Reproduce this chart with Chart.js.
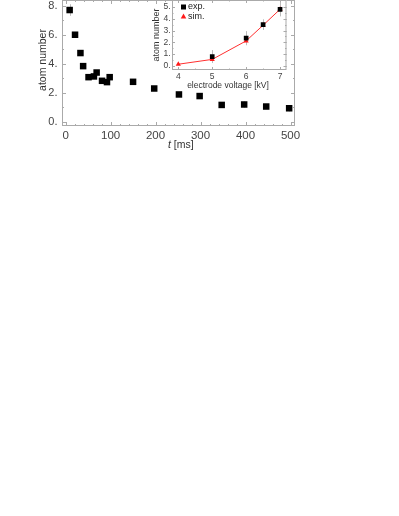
<!DOCTYPE html>
<html>
<head>
<meta charset="utf-8">
<script src="https://cdn.jsdelivr.net/npm/chart.js@4.4.1/dist/chart.umd.min.js"></script>
<style>
  body { margin: 0; background: #fff; width: 399px; height: 516px; overflow: hidden; position: relative; }
  canvas { position: absolute; top: 0; }
  #main { left: 0; }
  #inset { left: 150px; }
</style>
</head>
<body>
<canvas id="main" width="399" height="160"></canvas>
<canvas id="inset" width="142" height="95"></canvas>
<script>
// main panel: atom number vs. time
const tMs = [9, 21, 33, 39, 51, 63, 69, 81, 92, 98, 150, 197, 252, 298, 347, 397, 446, 497];
const atoms = [7.7, 6.0, 4.74, 3.84, 3.08, 3.13, 3.4, 2.83, 2.74, 3.08, 2.76, 2.3, 1.89, 1.78, 1.17, 1.2, 1.06, 0.94];
const atomsErr = [0.4, 0.12, 0.12, 0.12, 0.1, 0.1, 0.15, 0.1, 0.1, 0.12, 0.1, 0.12, 0.15, 0.12, 0.2, 0.22, 0.12, 0.22];
const mainXTicks = [0, 100, 200, 300, 400, 500];
const mainYTicks = [0, 2, 4, 6, 8];

// inset: atom number vs. electrode voltage
const voltExp = [5, 6, 6.5, 7];
const atomsExp = [0.79, 2.35, 3.5, 4.8];
const atomsExpErr = [0.55, 0.6, 0.45, 0.6];
const voltSim = [4, 5, 6, 6.5, 7];
const atomsSim = [0.14, 0.55, 2.12, 3.45, 4.8];
const insetXTicks = [4, 5, 6, 7];
const insetYTicks = [0, 1, 2, 3, 4, 5];

const FONT = "'Liberation Sans', Arial, sans-serif";
const toXY = (xs, ys) => xs.map((x, i) => ({ x: x, y: ys[i] }));

function range(a, b, step) {
    let out = [];
    for (let v = a; v <= b + 1e-9; v += step) out.push(Math.round(v * 1000) / 1000);
    return out;
}

// frame with inward ticks on all four sides, error bars, titles
const framePlugin = {
    id: 'frame',
    beforeDraw(chart, args, opts) {
        if (!opts.fill) return;
        const a = chart.chartArea, ctx = chart.ctx;
        ctx.save();
        ctx.fillStyle = opts.fill;
        ctx.fillRect(a.left, a.top, a.right - a.left, a.bottom - a.top);
        ctx.restore();
    },
    beforeDatasetsDraw(chart, args, opts) {
        const { ctx, chartArea: a, scales: { x, y } } = chart;
        ctx.save();
        ctx.strokeStyle = '#aaa';
        ctx.lineWidth = 1;
        ctx.strokeRect(a.left + 0.5, a.top + 0.5, a.right - a.left - 1, a.bottom - a.top - 1);
        ctx.beginPath();
        const tick = (vals, len, horiz) => {
            vals.forEach(v => {
                if (horiz) {
                    const px = Math.round(x.getPixelForValue(v)) + 0.5;
                    if (px < a.left || px > a.right) return;
                    ctx.moveTo(px, a.bottom); ctx.lineTo(px, a.bottom - len);
                    ctx.moveTo(px, a.top); ctx.lineTo(px, a.top + len);
                } else {
                    const py = Math.round(y.getPixelForValue(v)) + 0.5;
                    if (py < a.top || py > a.bottom) return;
                    ctx.moveTo(a.left, py); ctx.lineTo(a.left + len, py);
                    ctx.moveTo(a.right, py); ctx.lineTo(a.right - len, py);
                }
            });
        };
        tick(opts.majorX, opts.major, true);
        tick(opts.minorX, opts.minor, true);
        tick(opts.majorY, opts.major, false);
        tick(opts.minorY, opts.minor, false);
        ctx.stroke();

        // error bars
        ctx.strokeStyle = '#bbb';
        chart.data.datasets.forEach((ds, i) => {
            if (!ds.errors) return;
            const meta = chart.getDatasetMeta(i);
            ctx.beginPath();
            meta.data.forEach((pt, j) => {
                const px = Math.round(pt.x) + 0.5;
                const v = ds.data[j].y;
                ctx.moveTo(px, y.getPixelForValue(v + ds.errors[j]));
                ctx.lineTo(px, y.getPixelForValue(v - ds.errors[j]));
            });
            ctx.stroke();
        });
        ctx.restore();
    },
    afterDraw(chart, args, opts) {
        const ctx = chart.ctx;
        ctx.save();
        ctx.fillStyle = '#333';
        (opts.texts || []).forEach(t => {
            ctx.save();
            ctx.translate(t.x, t.y);
            if (t.rot) ctx.rotate(t.rot);
            ctx.textBaseline = 'middle';
            ctx.textAlign = t.align || 'center';
            let cx = 0;
            t.parts.forEach(p => {
                ctx.font = (p.italic ? 'italic ' : '') + t.size + 'px ' + FONT;
                ctx.fillText(p.s, cx, 0);
                cx += ctx.measureText(p.s).width;
            });
            ctx.restore();
        });
        (opts.legend || []).forEach(l => {
            ctx.fillStyle = l.color;
            ctx.beginPath();
            if (l.shape == 'rect') {
                ctx.rect(l.x - 2.5, l.y - 2.5, 5, 5);
            } else {
                ctx.moveTo(l.x, l.y - 3);
                ctx.lineTo(l.x + 2.8, l.y + 2);
                ctx.lineTo(l.x - 2.8, l.y + 2);
                ctx.closePath();
            }
            ctx.fill();
            ctx.fillStyle = '#222';
            ctx.font = '9px ' + FONT;
            ctx.textBaseline = 'middle';
            ctx.textAlign = 'left';
            ctx.fillText(l.label, l.x + 4.5, l.y);
        });
        ctx.restore();
    }
};

function axis(min, max, ticks, size, pad, fmt, fit) {
    return {
        type: 'linear', min: min, max: max,
        grid: { display: false, drawTicks: false },
        border: { display: false },
        afterBuildTicks: s => { s.ticks = ticks.map(v => ({ value: v })); },
        afterFit: fit,
        ticks: {
            padding: pad, color: '#444', font: { family: FONT, size: size },
            callback: fmt, maxRotation: 0, autoSkip: false
        }
    };
}

new Chart(document.getElementById('main'), {
    type: 'scatter',
    data: {
        datasets: [{
            data: toXY(tMs, atoms),
            errors: atomsErr,
            pointStyle: 'rect', pointRadius: 4.6, pointHoverRadius: 4.6,
            backgroundColor: '#000', borderColor: '#000', borderWidth: 0
        }]
    },
    options: {
        responsive: false, animation: false,
        layout: { autoPadding: false, padding: { left: 0, right: 104, top: 0, bottom: 0 } },
        plugins: {
            legend: { display: false }, tooltip: { enabled: false },
            frame: {
                majorX: mainXTicks, minorX: range(0, 500, 20),
                majorY: mainYTicks, minorY: range(0, 8, 1),
                major: 4, minor: 2,
                texts: [
                    { x: 43.5, y: 60, rot: -Math.PI / 2, size: 10.5, parts: [{ s: 'atom number' }] },
                    { x: 168, y: 145, align: 'left', size: 10.5, parts: [{ s: 't', italic: true }, { s: ' [ms]' }] }
                ]
            }
        },
        scales: {
            x: axis(-8, 510, mainXTicks, 11.5, 3, v => String(v),
                s => { s.height = 34; s.paddingLeft = 0; s.paddingRight = 0; }),
            y: axis(-0.28, 8.39, mainYTicks, 11, 4.5, v => v + '.',
                s => { s.width = 62; s.paddingTop = 0; s.paddingBottom = 0; })
        }
    },
    plugins: [framePlugin]
});

new Chart(document.getElementById('inset'), {
    type: 'scatter',
    data: {
        datasets: [{
            label: 'sim.',
            data: toXY(voltSim, atomsSim),
            showLine: true, borderColor: '#ff3030', borderWidth: 1,
            pointStyle: 'triangle', pointRadius: 3, pointHoverRadius: 3,
            backgroundColor: '#ff1a1a', pointBorderWidth: 0, order: 2
        }, {
            label: 'exp.',
            data: toXY(voltExp, atomsExp),
            errors: atomsExpErr,
            pointStyle: 'rect', pointRadius: 3.3, pointHoverRadius: 3.3,
            backgroundColor: '#000', borderColor: '#000', borderWidth: 0, order: 1
        }]
    },
    options: {
        responsive: false, animation: false,
        layout: { autoPadding: false, padding: { left: 0, right: 5.5, top: 0, bottom: 0 } },
        plugins: {
            legend: { display: false }, tooltip: { enabled: false },
            frame: {
                fill: '#fff',
                majorX: insetXTicks, minorX: range(4, 7, 0.5),
                majorY: insetYTicks, minorY: range(0, 5, 0.5),
                major: 3, minor: 1.5,
                texts: [
                    { x: 6.5, y: 35, rot: -Math.PI / 2, size: 9, parts: [{ s: 'atom number' }] },
                    { x: 78, y: 86, size: 8.5, parts: [{ s: 'electrode voltage [kV]' }] }
                ],
                legend: [
                    { x: 33.5, y: 7, shape: 'rect', color: '#000', label: 'exp.' },
                    { x: 33.5, y: 16.5, shape: 'tri', color: '#ff1a1a', label: 'sim.' }
                ]
            }
        },
        scales: {
            x: axis(3.814, 7.19, insetXTicks, 8.5, 2, v => String(v),
                s => { s.height = 25; s.paddingLeft = 0; s.paddingRight = 0; }),
            y: axis(-0.35, 5.59, insetYTicks, 8.5, 1.5, v => v + '.',
                s => { s.width = 22; s.paddingTop = 0; s.paddingBottom = 0; })
        }
    },
    plugins: [framePlugin]
});
</script>
</body>
</html>
